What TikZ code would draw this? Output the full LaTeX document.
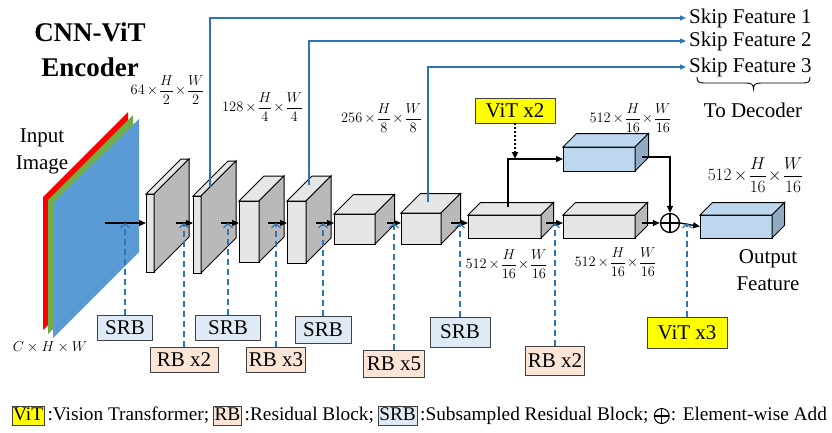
\documentclass[tikz,border=0pt]{standalone}
\usepackage{fontspec}
\setmainfont{Liberation Serif}
\usetikzlibrary{arrows.meta,calc,positioning}
\definecolor{skipblue}{RGB}{46,117,182}
\definecolor{srbfill}{RGB}{222,235,247}
\definecolor{rbfill}{RGB}{251,229,214}
\definecolor{vitfill}{RGB}{255,255,0}
\definecolor{facegray}{RGB}{230,230,230}
\definecolor{sidegray}{RGB}{185,185,185}
\definecolor{faceblue}{RGB}{189,215,238}
\definecolor{sideblue}{RGB}{143,170,194}
\definecolor{imgred}{RGB}{255,0,0}
\definecolor{imggreen}{RGB}{112,173,71}
\definecolor{imgblue}{RGB}{91,155,213}
\tikzset{pin/.style={-{Triangle[length=7pt,width=6pt]}, line width=1.3pt},
  skip/.style={skipblue, line width=1.2pt, -{Triangle[length=6pt,width=5pt]}},
  feed/.style={skipblue, line width=1.2pt, dash pattern=on 6pt off 4pt, -{Straight Barb[length=4pt,width=9pt]}},
  tag/.style={draw=black!75, line width=0.8pt, font=\fontsize{21}{24}\selectfont, inner xsep=2pt, inner ysep=0pt, minimum height=25pt},
  dims/.style={font=\fontsize{14.5}{17}\selectfont, inner sep=0pt},
  lgtext/.style={font=\fontsize{19.3}{22}\selectfont, inner sep=1pt, text height=13pt, text depth=4pt},
  add/.style={circle, draw, line width=1.3pt, inner sep=0pt, minimum size=19pt, path picture={\draw[line width=1.3pt] (path picture bounding box.north) -- (path picture bounding box.south) (path picture bounding box.west) -- (path picture bounding box.east);}}}
% feature map: name, x, y (front top left), width, height, depth, front, side
\newcommand{\featbox}[8]{%
  \node[draw, line width=1pt, fill=#7, anchor=north west, inner sep=0pt, outer sep=0pt, minimum width=#4pt, minimum height=#5pt] (#1) at (#2,#3) {};
  \draw[line width=1pt, fill=#7] (#1.north west) -- ++(#6,-#6) -- ++(#4,0) -- (#1.north east) -- cycle;
  \draw[line width=1pt, fill=#8] (#1.north east) -- ++(#6,-#6) -- ++(0,#5) -- (#1.south east) -- cycle;}
% channels x H/s x W/s
\newcommand{\fsize}[2]{{\medmuskip=2.5mu\nulldelimiterspace=0pt$\displaystyle #1\times\frac{H}{#2}\times\frac{W}{#2}$}}

\begin{document}
\begin{tikzpicture}[x=1pt, y=-1pt, font=\fontsize{21}{27}\selectfont]
  \useasboundingbox (0,0) rectangle (832,432);
  \node[font=\bfseries\fontsize{27}{35}\selectfont, align=center] (title) at (90,50) {CNN-ViT\\Encoder};
  \node[align=center] (inp) at (42,151) {Input\\Image};
  % input image planes
  \fill[imgred] (43,197) -- (128,112) -- (128,245) -- (43,330) -- cycle;
  \fill[imggreen] (48,200) -- (133,115) -- (133,249) -- (48,334) -- cycle;
  \fill[imgblue] (53,203) -- (139,119) -- (139,252) -- (53,338) -- cycle;
  \node[font=\fontsize{15}{17}\selectfont] (chw) at (50,347) {$C\times H\times W$};
  % encoder stages
  \featbox{b1}{146}{194}{8}{78}{35}{facegray}{sidegray}
  \featbox{b2}{193}{196}{8}{77}{35}{facegray}{sidegray}
  \featbox{b3}{239}{201}{20}{61}{25}{facegray}{sidegray}
  \featbox{b4}{287}{201}{19}{62}{25}{facegray}{sidegray}
  \featbox{b5}{334}{214}{41}{30}{19.5}{facegray}{sidegray}
  \featbox{b6}{401}{213}{40}{31}{19.5}{facegray}{sidegray}
  \featbox{b7}{468}{215}{73}{23}{12.5}{facegray}{sidegray}
  \featbox{b8}{563}{215}{72}{23}{12.5}{facegray}{sidegray}
  \featbox{u}{563}{147}{72}{24}{13.5}{faceblue}{sideblue}
  \featbox{out}{700}{215}{72}{23}{12.5}{faceblue}{sideblue}
  \node[add] (add) at (670,223) {};
  % main lane
  \coordinate (lane) at (0,223);
  \foreach \sx [count=\i] in {105,176,221,268,316,387,451,546,642}{\coordinate (a\i) at (\sx,223);}
  \foreach \i/\t in {1/b1,2/b2,3/b3,4/b4,5/b5,6/b6,7/b7,8/b8}{\draw[pin] (a\i) -- (a\i -| \t.west);}
  \draw[pin] (a9) -- (add.west);
  \draw[pin] (add.east) -- (out.west);
  % vit branch
  \node[tag, fill=vitfill, minimum width=80pt] (vit2) at (515,110.5) {ViT x2};
  \coordinate (br) at ($(b7.north west)+(40,-8)$);
  \coordinate (ue) at ($(u.east)+(7,-2)$);
  \draw[pin] (br) |- (u.west);
  \draw[pin, line width=2pt, dash pattern=on 2pt off 2pt] (vit2.south) -- (vit2.south |- u.west);
  \draw[pin] (ue) -| (add.north);
  % blocks feeding each stage
  \node[tag, fill=srbfill, minimum width=55pt] (srb1) at (125,328) {SRB};
  \node[tag, fill=rbfill, minimum width=68pt] (rb1) at (184,359.5) {RB x2};
  \node[tag, fill=srbfill, minimum width=65pt] (srb2) at (228,328) {SRB};
  \node[tag, fill=rbfill, minimum width=58pt] (rb2) at (276,359.5) {RB x3};
  \node[tag, fill=srbfill, minimum width=56pt, minimum height=27pt] (srb3) at (323,329.5) {SRB};
  \node[tag, fill=rbfill, minimum width=61pt, minimum height=27pt] (rb3) at (394,363.5) {RB x5};
  \node[tag, fill=srbfill, minimum width=60pt, minimum height=30pt] (srb4) at (460,332) {SRB};
  \node[tag, fill=rbfill, minimum width=57pt, minimum height=29pt] (rb4) at (555,360.5) {RB x2};
  \node[tag, fill=vitfill, minimum width=80pt, minimum height=31pt] (vit3) at (687,332.5) {ViT x3};
  \foreach \t in {srb1,rb1,srb2,rb2,srb3,rb3,srb4,rb4,vit3}{\draw[feed] (\t.north) -- (\t.north |- lane);}
  % skip features
  \node[anchor=west, inner xsep=3pt] (sk1) at (686,18) {Skip Feature 1};
  \node[anchor=west, inner xsep=3pt] (sk2) at (686,41) {Skip Feature 2};
  \node[anchor=west, inner xsep=3pt] (sk3) at (686,67) {Skip Feature 3};
  \coordinate (k1) at ($(b2.north east)+(9,-9)$);
  \coordinate (k2) at ($(b4.north east)+(3,-16)$);
  \coordinate (k3) at ($(b6.north west)+(27,-11)$);
  \foreach \i in {1,2,3}{\draw[skip] (k\i) |- (sk\i.west);}
  % brace under the skip outputs
  \draw[line width=0.9pt] (697,77) .. controls (697,82) and (699,83) .. (704,83) -- (746,83)
    .. controls (751,83) and (753.5,84) .. (753.5,89) .. controls (753.5,84) and (756,83) .. (761,83)
    -- (803,83) .. controls (808,83) and (810,82) .. (810,77);
  \node (dec) at (753,110) {To Decoder};
  \node[align=center] (outl) at (768,270) {Output\\Feature};
  % sizes
  \node[dims] (d1) at (167,90) {\fsize{64}{2}};
  \node[dims] (d2) at (262,107) {\fsize{128}{4}};
  \node[dims] (d3) at (381,118) {\fsize{256}{8}};
  \node[dims] (d4) at (630,118) {\fsize{512}{16}};
  \node[dims, font=\fontsize{18}{20}\selectfont] (d5) at (755,175) {\fsize{512}{16}};
  \node[dims] (d6) at (506,264) {\fsize{512}{16}};
  \node[dims] (d7) at (615,262) {\fsize{512}{16}};
  % legend
  \node[lgtext, draw=black!75, fill=vitfill, anchor=west] (kvit) at (12,416) {ViT};
  \node[lgtext, right=2pt of kvit] (tvit) {:Vision Transformer;};
  \node[lgtext, draw=black!75, fill=rbfill, right=3pt of tvit] (krb) {RB};
  \node[lgtext, right=2pt of krb] (trb) {:Residual Block;};
  \node[lgtext, draw=black!75, fill=srbfill, right=3pt of trb] (ksrb) {SRB};
  \node[lgtext, right=2pt of ksrb] (tsrb) {:Subsampled Residual Block;};
  \node[add, minimum size=15pt, line width=1pt, right=4pt of tsrb] (kadd) {};
  \node[lgtext, right=0pt of kadd] (tadd) {: Element-wise Add};
\end{tikzpicture}
\end{document}
